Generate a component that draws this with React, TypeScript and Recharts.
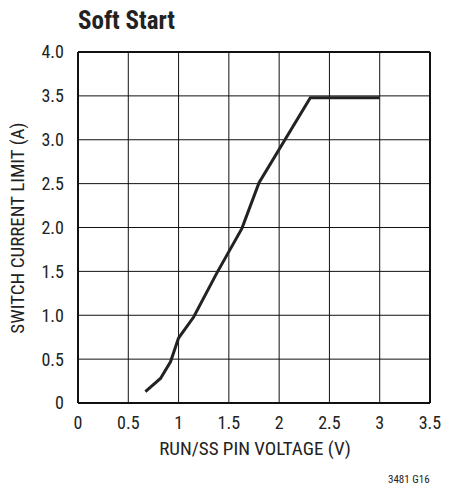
import { LineChart, Line, XAxis, YAxis, CartesianGrid, ReferenceLine } from 'recharts'

const voltage = [0.67, 0.82, 0.92, 1.0, 1.15, 1.38, 1.63, 1.8, 2.31, 3.0]
const currentLimit = [0.13, 0.28, 0.47, 0.74, 0.98, 1.48, 1.99, 2.51, 3.48, 3.48]
const xTicks = [0, 0.5, 1, 1.5, 2, 2.5, 3, 3.5]
const yTicks = [0, 0.5, 1, 1.5, 2, 2.5, 3, 3.5, 4]

const data = voltage.map((v, i) => ({ v, a: currentLimit[i] }))

const font = "'Liberation Sans Narrow', 'Roboto Condensed', 'Liberation Sans', Arial, sans-serif"
const tick = { fontSize: 18, fill: '#222', fontFamily: font }

export default function App() {
  return (
    <div style={{ position: 'relative', width: 450, height: 496, background: '#fff', fontFamily: font }}>
      <style>{`body{margin:0}`}</style>
      <div style={{ position: 'absolute', left: 78, top: 6, fontSize: 25, fontWeight: 'bold', color: '#222' }}>
        Soft Start
      </div>
      <LineChart width={450} height={496} data={data} margin={{ top: 52, right: 20, left: 18, bottom: 63 }}>
        <CartesianGrid stroke="#111" strokeWidth={1} />
        <XAxis
          dataKey="v"
          type="number"
          domain={[0, 3.5]}
          ticks={xTicks}
          tickFormatter={(t) => String(t)}
          tick={tick}
          tickLine={false}
          axisLine={{ stroke: '#111', strokeWidth: 2 }}
          height={30}
          tickMargin={7}
        />
        <YAxis
          type="number"
          domain={[0, 4]}
          ticks={yTicks}
          tickFormatter={(t) => (t === 0 ? '0' : t.toFixed(1))}
          tick={tick}
          tickLine={false}
          axisLine={{ stroke: '#111', strokeWidth: 2 }}
          width={60}
          tickMargin={8}
        />
        <ReferenceLine y={4} stroke="#111" strokeWidth={2} />
        <ReferenceLine x={3.5} stroke="#111" strokeWidth={2} />
        <Line
          dataKey="a"
          stroke="#222"
          strokeWidth={3}
          dot={false}
          type="linear"
          isAnimationActive={false}
        />
      </LineChart>
      <div style={{ position: 'absolute', left: 0, width: 510, top: 437, textAlign: 'center', fontSize: 19, color: '#222' }}>
        RUN/SS PIN VOLTAGE (V)
      </div>
      <div
        style={{
          position: 'absolute',
          left: 17,
          top: 228,
          transform: 'translate(-50%, -50%) rotate(-90deg)',
          whiteSpace: 'nowrap',
          fontSize: 19,
          color: '#222',
        }}
      >
        SWITCH CURRENT LIMIT (A)
      </div>
      <div style={{ position: 'absolute', left: 388, top: 473, fontSize: 11, color: '#222' }}>3481 G16</div>
    </div>
  )
}
